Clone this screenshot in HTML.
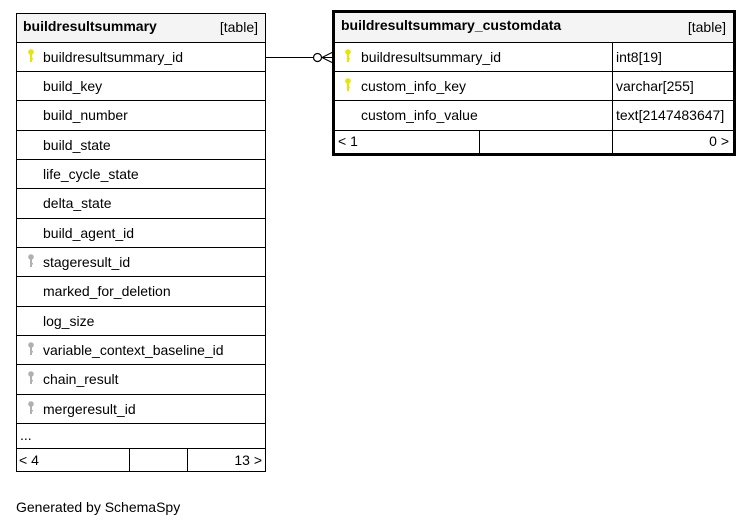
<!DOCTYPE html>
<html><head><meta charset="utf-8"><style>
html,body{margin:0;padding:0;background:#fff;width:751px;height:527px;overflow:hidden}
svg text{font-family:"Liberation Sans",Arial,sans-serif;font-size:14px;fill:#000}
</style></head><body>
<svg width="751" height="527" viewBox="0 0 751 527" xmlns="http://www.w3.org/2000/svg">
<defs>
<g id="ky"><circle cx="0" cy="0" r="2.8" fill="#e6e600"/><rect x="-1" y="1" width="2" height="9" fill="#e6e600"/><rect x="0" y="6" width="2" height="1.5" fill="#e6e600"/></g>
<g id="kg"><circle cx="0" cy="0" r="2.8" fill="#b0b0b0"/><rect x="-1" y="1" width="2" height="9" fill="#b0b0b0"/><rect x="0" y="6" width="2" height="1.5" fill="#b0b0b0"/></g>
</defs>
<!-- left table -->
<rect x="16.5" y="13.5" width="249" height="29" fill="#f4f4f4"/>
<rect x="16.5" y="13.5" width="249" height="458" fill="none" stroke="#000"/>
<g stroke="#000" stroke-width="1">
<line x1="16" y1="42.5" x2="266" y2="42.5"/>
<line x1="16" y1="71.5" x2="266" y2="71.5"/>
<line x1="16" y1="100.5" x2="266" y2="100.5"/>
<line x1="16" y1="130.5" x2="266" y2="130.5"/>
<line x1="16" y1="159.5" x2="266" y2="159.5"/>
<line x1="16" y1="188.5" x2="266" y2="188.5"/>
<line x1="16" y1="218.5" x2="266" y2="218.5"/>
<line x1="16" y1="247.5" x2="266" y2="247.5"/>
<line x1="16" y1="276.5" x2="266" y2="276.5"/>
<line x1="16" y1="306.5" x2="266" y2="306.5"/>
<line x1="16" y1="335.5" x2="266" y2="335.5"/>
<line x1="16" y1="364.5" x2="266" y2="364.5"/>
<line x1="16" y1="394.5" x2="266" y2="394.5"/>
<line x1="16" y1="423.5" x2="266" y2="423.5"/>
<line x1="16" y1="448.5" x2="266" y2="448.5"/>
<line x1="129.5" y1="448" x2="129.5" y2="472"/>
<line x1="187.5" y1="448" x2="187.5" y2="472"/>
</g>
<text x="23" y="31" font-weight="bold" style="font-weight:bold">buildresultsummary</text>
<text x="258" y="32" text-anchor="end">[table]</text>
<use href="#ky" x="31" y="52"/>
<text x="43" y="62">buildresultsummary_id</text>
<text x="43" y="91">build_key</text>
<text x="43" y="120">build_number</text>
<text x="43" y="150">build_state</text>
<text x="43" y="179">life_cycle_state</text>
<text x="43" y="208">delta_state</text>
<text x="43" y="238">build_agent_id</text>
<use href="#kg" x="31" y="257"/>
<text x="43" y="267">stageresult_id</text>
<text x="43" y="296">marked_for_deletion</text>
<text x="43" y="326">log_size</text>
<use href="#kg" x="31" y="345"/>
<text x="43" y="355">variable_context_baseline_id</text>
<use href="#kg" x="31" y="374"/>
<text x="43" y="384">chain_result</text>
<use href="#kg" x="31" y="404"/>
<text x="43" y="414">mergeresult_id</text>
<text x="20" y="440">...</text>
<text x="19" y="465">&lt; 4</text>
<text x="262" y="465" text-anchor="end">13 &gt;</text>
<!-- connector -->
<line x1="266" y1="57.5" x2="313" y2="57.5" stroke="#000"/>
<circle cx="317.5" cy="57.5" r="4" fill="#fff" stroke="#000" stroke-width="1.2"/>
<line x1="321.5" y1="57.5" x2="333" y2="57.5" stroke="#000"/>
<line x1="322" y1="57.5" x2="333" y2="52" stroke="#000"/>
<line x1="322" y1="57.5" x2="333" y2="63" stroke="#000"/>
<!-- right table -->
<rect x="335" y="13" width="398" height="29" fill="#f4f4f4"/>
<g stroke="#000" stroke-width="1">
<line x1="334" y1="42.5" x2="734" y2="42.5"/>
<line x1="334" y1="71.5" x2="734" y2="71.5"/>
<line x1="334" y1="100.5" x2="734" y2="100.5"/>
<line x1="334" y1="130.5" x2="734" y2="130.5"/>
<line x1="612.5" y1="42" x2="612.5" y2="154"/>
<line x1="479.5" y1="130" x2="479.5" y2="154"/>
</g>
<rect x="333.5" y="11.5" width="401" height="143" fill="none" stroke="#000" stroke-width="3"/>
<text x="341" y="30" style="font-weight:bold">buildresultsummary_customdata</text>
<text x="726" y="32" text-anchor="end">[table]</text>
<use href="#ky" x="348" y="52"/>
<text x="361" y="62">buildresultsummary_id</text>
<text x="616" y="62">int8[19]</text>
<use href="#ky" x="348" y="81"/>
<text x="361" y="91">custom_info_key</text>
<text x="616" y="91">varchar[255]</text>
<text x="361" y="120">custom_info_value</text>
<text x="616" y="120">text[2147483647]</text>
<text x="338" y="146">&lt; 1</text>
<text x="729" y="146" text-anchor="end">0 &gt;</text>
<text x="16" y="512">Generated by SchemaSpy</text>
</svg>
</body></html>
